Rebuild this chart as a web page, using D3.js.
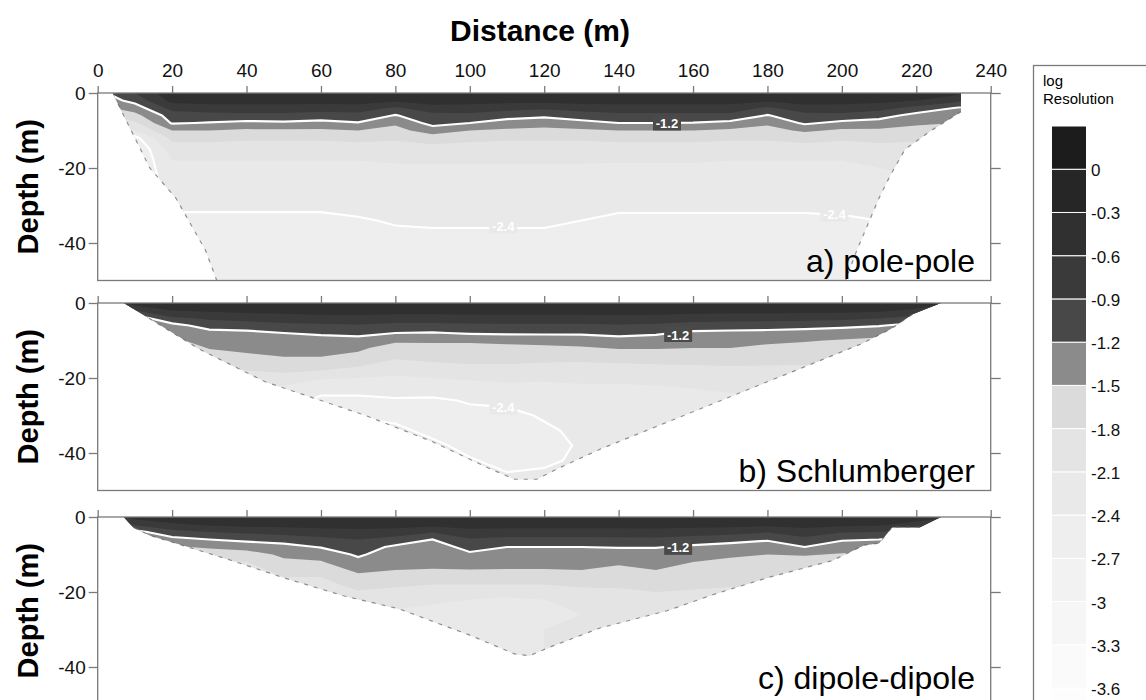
<!DOCTYPE html>
<meta charset="utf-8">
<html>
<head>
<style>
body { margin: 0; background: #fff; }
text { font-family: Arial, "Liberation Sans", sans-serif; }
</style>
</head>
<body>
<div id="chart"></div>
<script src="https://d3js.org/d3.v7.min.js"></script>
<script>

// grid columns (distance, m) and rows (depth, m)
var distances = [0,10,20,30,40,50,60,70,80,90,100,110,120,130,140,150,160,170,180,190,200,210,220,230,240];
var depths = [0,-2,-4,-6,-8,-10,-12,-15,-18,-22,-26,-30,-34,-38,-42,-46,-50];

// contour levels (log resolution) and their fills
var levels = [-3.9,-3.6,-3.3,-3,-2.7,-2.4,-2.1,-1.8,-1.5,-1.2,-0.9,-0.6,-0.3,0];
var levelColors = ["#fdfdfd","#fafafa","#f6f6f6","#f2f2f2","#eeeeee","#e9e9e9","#e4e4e4","#dbdbdb","#8b8b8b","#484848","#3a3a3a","#303030","#262626","#1c1c1c"];
var lineLevels = [-2.4, -1.2];
var legendTicks = [0,-0.3,-0.6,-0.9,-1.2,-1.5,-1.8,-2.1,-2.4,-2.7,-3,-3.3,-3.6];

var xTicks = [0,20,40,60,80,100,120,140,160,180,200,220,240];
var yTicks = [0,-20,-40];

// log resolution, one column per distance, values down the depth rows
var polePole = [
  [-1.3,-1.4,-1.6,-1.8,-2.0,-2.2,-2.4,-2.6,-2.7,-2.7,-2.7,-2.7,-2.7,-2.7,-2.7,-2.7,-2.7],
  [-0.9,-1.1,-1.35,-1.6,-1.85,-2.1,-2.5,-2.7,-2.7,-2.7,-2.7,-2.7,-2.7,-2.7,-2.7,-2.7,-2.7],
  [-0.4,-0.5,-0.8,-1.05,-1.17,-1.5,-1.72,-1.95,-2.1,-2.2,-2.28,-2.36,-2.45,-2.5,-2.55,-2.6,-2.62],
  [-0.35,-0.45,-0.75,-1.0,-1.22,-1.5,-1.72,-1.93,-2.1,-2.2,-2.28,-2.36,-2.45,-2.5,-2.55,-2.6,-2.62],
  [-0.35,-0.45,-0.75,-0.98,-1.28,-1.55,-1.75,-1.95,-2.1,-2.2,-2.28,-2.36,-2.45,-2.5,-2.55,-2.6,-2.62],
  [-0.35,-0.45,-0.75,-0.98,-1.25,-1.55,-1.75,-1.95,-2.1,-2.2,-2.28,-2.36,-2.45,-2.5,-2.55,-2.6,-2.62],
  [-0.35,-0.45,-0.78,-1.02,-1.3,-1.55,-1.75,-1.95,-2.1,-2.2,-2.28,-2.36,-2.45,-2.5,-2.55,-2.6,-2.62],
  [-0.35,-0.45,-0.75,-1.0,-1.22,-1.5,-1.72,-1.93,-2.1,-2.2,-2.27,-2.34,-2.42,-2.47,-2.52,-2.57,-2.6],
  [-0.4,-0.55,-0.95,-1.22,-1.45,-1.6,-1.75,-1.95,-2.08,-2.18,-2.26,-2.32,-2.38,-2.44,-2.5,-2.55,-2.6],
  [-0.35,-0.45,-0.72,-1.0,-1.1,-1.35,-1.65,-1.92,-2.08,-2.18,-2.26,-2.32,-2.37,-2.43,-2.5,-2.55,-2.6],
  [-0.35,-0.45,-0.75,-0.97,-1.2,-1.5,-1.72,-1.93,-2.08,-2.18,-2.26,-2.32,-2.37,-2.43,-2.5,-2.55,-2.6],
  [-0.35,-0.48,-0.8,-1.08,-1.33,-1.55,-1.75,-1.95,-2.08,-2.18,-2.26,-2.32,-2.37,-2.43,-2.5,-2.55,-2.6],
  [-0.38,-0.5,-0.85,-1.14,-1.38,-1.58,-1.75,-1.95,-2.08,-2.18,-2.26,-2.32,-2.37,-2.43,-2.5,-2.55,-2.6],
  [-0.35,-0.45,-0.78,-1.03,-1.3,-1.55,-1.75,-1.95,-2.08,-2.18,-2.27,-2.34,-2.4,-2.46,-2.52,-2.57,-2.6],
  [-0.35,-0.45,-0.75,-0.97,-1.2,-1.5,-1.72,-1.93,-2.08,-2.2,-2.28,-2.36,-2.44,-2.5,-2.55,-2.6,-2.62],
  [-0.35,-0.45,-0.75,-0.97,-1.2,-1.5,-1.72,-1.93,-2.08,-2.2,-2.28,-2.36,-2.44,-2.5,-2.55,-2.6,-2.62],
  [-0.35,-0.45,-0.75,-0.97,-1.21,-1.5,-1.72,-1.93,-2.08,-2.2,-2.28,-2.36,-2.44,-2.5,-2.55,-2.6,-2.62],
  [-0.35,-0.45,-0.75,-0.98,-1.28,-1.55,-1.75,-1.95,-2.1,-2.2,-2.28,-2.36,-2.44,-2.5,-2.55,-2.6,-2.62],
  [-0.4,-0.55,-0.95,-1.22,-1.45,-1.6,-1.75,-1.95,-2.1,-2.2,-2.28,-2.36,-2.44,-2.5,-2.55,-2.6,-2.62],
  [-0.35,-0.45,-0.73,-1.0,-1.15,-1.45,-1.7,-1.93,-2.1,-2.2,-2.28,-2.36,-2.44,-2.5,-2.55,-2.6,-2.62],
  [-0.35,-0.45,-0.75,-0.98,-1.28,-1.55,-1.75,-1.95,-2.1,-2.2,-2.28,-2.35,-2.43,-2.5,-2.55,-2.6,-2.62],
  [-0.35,-0.5,-0.8,-1.08,-1.33,-1.55,-1.72,-1.9,-2.05,-2.15,-2.2,-2.3,-2.4,-2.45,-2.5,-2.5,-2.5],
  [-0.4,-0.6,-1.0,-1.3,-1.45,-1.6,-1.75,-1.9,-2.0,-2.1,-2.2,-2.3,-2.4,-2.45,-2.5,-2.5,-2.5],
  [-0.5,-0.8,-1.2,-1.4,-1.5,-1.6,-1.75,-1.9,-2.0,-2.1,-2.2,-2.3,-2.4,-2.45,-2.5,-2.5,-2.5],
  [-0.8,-1.1,-1.3,-1.45,-1.55,-1.65,-1.75,-1.9,-2.0,-2.1,-2.2,-2.3,-2.4,-2.45,-2.5,-2.5,-2.5]
];

var schlumberger = [
  [-1.0,-1.2,-1.5,-1.7,-1.9,-2.1,-2.2,-2.3,-2.35,-2.38,-2.38,-2.38,-2.38,-2.38,-2.38,-2.38,-2.38],
  [-0.45,-0.9,-1.35,-1.5,-1.7,-1.9,-2.0,-2.1,-2.2,-2.3,-2.3,-2.3,-2.3,-2.3,-2.3,-2.3,-2.3],
  [-0.4,-0.6,-0.95,-1.3,-1.42,-1.55,-1.75,-1.95,-2.1,-2.2,-2.25,-2.3,-2.3,-2.3,-2.3,-2.3,-2.3],
  [-0.4,-0.55,-0.85,-1.08,-1.3,-1.4,-1.48,-1.7,-1.9,-2.1,-2.2,-2.3,-2.3,-2.3,-2.3,-2.3,-2.3],
  [-0.38,-0.5,-0.8,-1.03,-1.28,-1.38,-1.45,-1.56,-1.8,-2.05,-2.2,-2.3,-2.3,-2.3,-2.3,-2.3,-2.3],
  [-0.35,-0.48,-0.75,-0.98,-1.2,-1.35,-1.43,-1.52,-1.75,-2.1,-2.3,-2.32,-2.3,-2.3,-2.3,-2.3,-2.3],
  [-0.35,-0.45,-0.72,-0.95,-1.15,-1.33,-1.43,-1.52,-1.8,-2.3,-2.45,-2.35,-2.3,-2.3,-2.3,-2.3,-2.3],
  [-0.35,-0.45,-0.7,-0.93,-1.12,-1.3,-1.45,-1.6,-1.9,-2.3,-2.45,-2.42,-2.3,-2.3,-2.3,-2.3,-2.3],
  [-0.35,-0.45,-0.75,-0.98,-1.2,-1.45,-1.62,-1.8,-2.0,-2.3,-2.42,-2.46,-2.35,-2.3,-2.3,-2.3,-2.3],
  [-0.35,-0.45,-0.75,-0.98,-1.22,-1.45,-1.6,-1.75,-1.95,-2.25,-2.44,-2.48,-2.46,-2.35,-2.3,-2.3,-2.3],
  [-0.35,-0.45,-0.73,-0.96,-1.17,-1.45,-1.6,-1.72,-1.9,-2.2,-2.38,-2.46,-2.5,-2.47,-2.38,-2.3,-2.3],
  [-0.35,-0.45,-0.72,-0.95,-1.15,-1.42,-1.58,-1.72,-1.9,-2.15,-2.36,-2.45,-2.5,-2.5,-2.47,-2.38,-2.3],
  [-0.35,-0.45,-0.72,-0.95,-1.15,-1.4,-1.56,-1.74,-1.95,-2.15,-2.3,-2.38,-2.43,-2.46,-2.45,-2.35,-2.3],
  [-0.35,-0.45,-0.72,-0.95,-1.15,-1.38,-1.53,-1.75,-1.95,-2.12,-2.25,-2.32,-2.36,-2.38,-2.35,-2.3,-2.3],
  [-0.35,-0.45,-0.7,-0.93,-1.12,-1.3,-1.48,-1.72,-1.95,-2.12,-2.25,-2.3,-2.3,-2.3,-2.3,-2.3,-2.3],
  [-0.35,-0.45,-0.72,-0.95,-1.16,-1.32,-1.48,-1.7,-1.92,-2.1,-2.2,-2.25,-2.3,-2.3,-2.3,-2.3,-2.3],
  [-0.35,-0.48,-0.76,-1.02,-1.26,-1.38,-1.5,-1.7,-1.9,-2.08,-2.18,-2.25,-2.3,-2.3,-2.3,-2.3,-2.3],
  [-0.35,-0.48,-0.78,-1.04,-1.28,-1.4,-1.5,-1.68,-1.88,-2.05,-2.15,-2.2,-2.25,-2.25,-2.25,-2.25,-2.25],
  [-0.35,-0.48,-0.78,-1.05,-1.3,-1.45,-1.55,-1.7,-1.88,-2.05,-2.15,-2.2,-2.2,-2.2,-2.2,-2.2,-2.2],
  [-0.35,-0.5,-0.8,-1.08,-1.33,-1.48,-1.58,-1.72,-1.88,-2.05,-2.15,-2.2,-2.2,-2.2,-2.2,-2.2,-2.2],
  [-0.35,-0.5,-0.82,-1.12,-1.38,-1.52,-1.62,-1.75,-1.9,-2.05,-2.15,-2.2,-2.2,-2.2,-2.2,-2.2,-2.2],
  [-0.38,-0.55,-0.88,-1.18,-1.42,-1.55,-1.65,-1.78,-1.9,-2.05,-2.15,-2.2,-2.2,-2.2,-2.2,-2.2,-2.2],
  [-0.45,-0.65,-1.0,-1.3,-1.5,-1.6,-1.7,-1.8,-1.9,-2.0,-2.1,-2.2,-2.2,-2.2,-2.2,-2.2,-2.2],
  [-0.6,-0.85,-1.15,-1.4,-1.55,-1.65,-1.72,-1.8,-1.9,-2.0,-2.1,-2.2,-2.2,-2.2,-2.2,-2.2,-2.2],
  [-0.8,-1.05,-1.3,-1.5,-1.6,-1.7,-1.75,-1.8,-1.9,-2.0,-2.1,-2.2,-2.2,-2.2,-2.2,-2.2,-2.2]
];

var dipoleDipole = [
  [-1.0,-1.3,-1.6,-1.8,-1.9,-2.0,-2.0,-2.0,-2.0,-2.0,-2.0,-2.0,-2.0,-2.0,-2.0,-2.0,-2.0],
  [-0.5,-0.85,-1.3,-1.5,-1.7,-1.85,-1.9,-2.0,-2.0,-2.0,-2.0,-2.0,-2.0,-2.0,-2.0,-2.0,-2.0],
  [-0.4,-0.65,-1.0,-1.3,-1.55,-1.8,-1.9,-2.0,-2.0,-2.0,-2.0,-2.0,-2.0,-2.0,-2.0,-2.0,-2.0],
  [-0.38,-0.55,-0.9,-1.2,-1.45,-1.7,-1.85,-1.95,-2.0,-2.0,-2.0,-2.0,-2.0,-2.0,-2.0,-2.0,-2.0],
  [-0.36,-0.5,-0.85,-1.12,-1.4,-1.62,-1.8,-1.95,-2.0,-2.0,-2.0,-2.0,-2.0,-2.0,-2.0,-2.0,-2.0],
  [-0.35,-0.48,-0.8,-1.06,-1.32,-1.45,-1.55,-1.75,-1.9,-2.0,-2.0,-2.0,-2.0,-2.0,-2.0,-2.0,-2.0],
  [-0.35,-0.45,-0.75,-0.98,-1.18,-1.4,-1.52,-1.75,-1.9,-2.05,-2.1,-2.1,-2.1,-2.1,-2.1,-2.1,-2.1],
  [-0.35,-0.45,-0.7,-0.9,-1.05,-1.15,-1.3,-1.5,-1.7,-1.95,-2.1,-2.15,-2.15,-2.15,-2.15,-2.15,-2.15],
  [-0.35,-0.45,-0.75,-1.0,-1.26,-1.38,-1.45,-1.52,-1.75,-2.0,-2.15,-2.2,-2.2,-2.2,-2.2,-2.2,-2.2],
  [-0.38,-0.5,-0.88,-1.2,-1.35,-1.42,-1.47,-1.52,-1.8,-2.05,-2.2,-2.2,-2.2,-2.2,-2.2,-2.2,-2.2],
  [-0.35,-0.45,-0.72,-0.93,-1.1,-1.25,-1.4,-1.55,-1.8,-2.1,-2.2,-2.2,-2.2,-2.2,-2.2,-2.2,-2.2],
  [-0.35,-0.45,-0.75,-0.97,-1.2,-1.35,-1.45,-1.53,-1.8,-2.15,-2.2,-2.15,-2.15,-2.15,-2.15,-2.15,-2.15],
  [-0.35,-0.45,-0.75,-0.97,-1.2,-1.35,-1.45,-1.53,-1.8,-2.1,-2.15,-2.1,-2.1,-2.1,-2.1,-2.1,-2.1],
  [-0.35,-0.45,-0.75,-0.97,-1.2,-1.35,-1.45,-1.52,-1.75,-2.0,-2.1,-2.1,-2.1,-2.1,-2.1,-2.1,-2.1],
  [-0.35,-0.45,-0.75,-0.96,-1.18,-1.36,-1.48,-1.55,-1.75,-1.95,-2.05,-2.05,-2.05,-2.05,-2.05,-2.05,-2.05],
  [-0.35,-0.45,-0.74,-0.96,-1.18,-1.35,-1.45,-1.52,-1.7,-1.9,-2.0,-2.0,-2.0,-2.0,-2.0,-2.0,-2.0],
  [-0.35,-0.47,-0.77,-1.02,-1.26,-1.4,-1.5,-1.62,-1.75,-1.9,-2.0,-2.0,-2.0,-2.0,-2.0,-2.0,-2.0],
  [-0.35,-0.48,-0.8,-1.08,-1.33,-1.46,-1.55,-1.65,-1.78,-1.9,-2.0,-2.0,-2.0,-2.0,-2.0,-2.0,-2.0],
  [-0.38,-0.52,-0.88,-1.16,-1.4,-1.5,-1.58,-1.68,-1.78,-1.9,-2.0,-2.0,-2.0,-2.0,-2.0,-2.0,-2.0],
  [-0.35,-0.47,-0.75,-0.98,-1.2,-1.48,-1.6,-1.68,-1.78,-1.88,-1.95,-1.95,-1.95,-1.95,-1.95,-1.95,-1.95],
  [-0.38,-0.52,-0.88,-1.16,-1.4,-1.52,-1.6,-1.7,-1.8,-1.85,-1.95,-1.95,-1.95,-1.95,-1.95,-1.95,-1.95],
  [-0.4,-0.55,-0.9,-1.2,-1.45,-1.55,-1.65,-1.72,-1.8,-1.9,-1.95,-1.95,-1.95,-1.95,-1.95,-1.95,-1.95],
  [-0.45,-0.7,-1.1,-1.35,-1.5,-1.6,-1.7,-1.75,-1.8,-1.9,-1.95,-1.95,-1.95,-1.95,-1.95,-1.95,-1.95],
  [-0.6,-0.9,-1.2,-1.4,-1.55,-1.65,-1.7,-1.75,-1.8,-1.9,-1.95,-1.95,-1.95,-1.95,-1.95,-1.95,-1.95],
  [-0.8,-1.1,-1.3,-1.5,-1.6,-1.7,-1.75,-1.8,-1.85,-1.9,-1.95,-1.95,-1.95,-1.95,-1.95,-1.95,-1.95]
];

// outline of the area covered by each survey [distance, depth]
var polePoleOutline = [[4,0],[232,0],[232,-5],[224,-10],[217,-15],[213,-22],[210,-28],[207,-35],[204,-42],[201,-50],
  [32,-50],[29,-42],[25,-35],[21,-28],[14,-20],[11.5,-15],[8,-8],[5,-2]];
var schlumbergerOutline = [[7,0],[226.6,0],[219,-3],[213,-7],[205,-11],[190,-17],[170,-25],[150,-33],[135,-39],[124,-44],
  [118,-47],[112,-47],[105,-44],[90,-37],[72,-30],[45,-21],[27.5,-12.4],[13,-3.6]];
var dipoleDipoleOutline = [[7,0],[226.6,0],[221,-2.7],[213.5,-2.7],[210,-7],[206,-7.5],[197.5,-11.6],[180,-16.2],[166,-20.5],
  [153,-25],[135,-29.6],[122,-34.5],[116,-37],[112,-36.5],[100,-31.5],[81,-24.5],[66,-21],[50,-16.2],[36,-11.6],[21,-7],[14,-4.9],[9.5,-2.7]];

// contour labels [text, distance, depth]
var polePoleLabels = [["-1.2",153,-8],["-2.4",109,-35.5],["-2.4",198,-32.3]];
var schlumbergerLabels = [["-1.2",156,-8.4],["-2.4",109,-27.8]];
var dipoleDipoleLabels = [["-1.2",156,-8.1]];

var width = 1146, height = 700;

var svg = d3.select("#chart")
  .append("svg")
    .attr("width", width)
    .attr("height", height);

var x = d3.scaleLinear().domain([0, 240]).range([97.7, 990.7]);
// grid index -> distance / depth
var gridX = d3.scaleLinear().domain(d3.range(distances.length)).range(distances);
var gridY = d3.scaleLinear().domain(d3.range(depths.length)).range(depths);

var panels = [
  {title: "a) pole-pole", top: 93, grid: polePole, outline: polePoleOutline, labels: polePoleLabels},
  {title: "b) Schlumberger", top: 303, grid: schlumberger, outline: schlumbergerOutline, labels: schlumbergerLabels},
  {title: "c) dipole-dipole", top: 517, grid: dipoleDipole, outline: dipoleDipoleOutline, labels: dipoleDipoleLabels}
];

var axisColor = "#7a7a7a";
var nx = distances.length, ny = depths.length;

panels.forEach(function(p, k) {
  var y = d3.scaleLinear().domain([0, -50]).range([p.top, p.top + 187.5]);
  var g = svg.append("g");

  var values = [];
  for (var j = 0; j < ny; j++)
    for (var i = 0; i < nx; i++) values.push(p.grid[i][j]);

  var path = d3.geoPath(d3.geoTransform({
    point: function(gx, gy) { this.stream.point(x(gridX(gx - 0.5)), y(gridY(gy - 0.5))); }
  }));

  var outline = d3.line().x(function(d) { return x(d[0]); }).y(function(d) { return y(d[1]); });
  svg.append("clipPath").attr("id", "clip" + k)
    .append("path").attr("d", outline(p.outline) + "Z");

  var body = g.append("g").attr("clip-path", "url(#clip" + k + ")");

  var bands = d3.contours().size([nx, ny]).thresholds(levels)(values);
  body.selectAll("path.band")
    .data(bands)
    .join("path")
      .attr("class", "band")
      .attr("d", path)
      .attr("fill", function(d) { return levelColors[levels.indexOf(d.value)]; });

  var lines = d3.contours().size([nx, ny]).thresholds(lineLevels)(values);
  body.selectAll("path.iso")
    .data(lines)
    .join("path")
      .attr("class", "iso")
      .attr("d", path)
      .attr("fill", "none")
      .attr("stroke", "#fff")
      .attr("stroke-width", 2.2);

  // ragged lower edge of the covered area
  g.append("path")
    .attr("d", outline(p.outline.slice(2)))
    .attr("fill", "none")
    .attr("stroke", "#666")
    .attr("stroke-width", 1.2)
    .attr("stroke-dasharray", "4,6")
    .attr("opacity", 0.7);

  // contour labels
  p.labels.forEach(function(l) {
    var cx = x(l[1]), cy = y(l[2]);
    g.append("rect")
      .attr("x", cx - 14).attr("y", cy - 7.5)
      .attr("width", 28).attr("height", 15)
      .attr("fill", l[0] == "-1.2" ? "#4a4a4a" : "#e9e9e9");
    g.append("text")
      .attr("x", cx).attr("y", cy + 5)
      .attr("text-anchor", "middle")
      .attr("fill", "#fff")
      .attr("font-size", "13px")
      .attr("font-weight", "bold")
      .text(l[0]);
  });

  // frame
  g.append("rect")
    .attr("x", x(0)).attr("y", y(0))
    .attr("width", x(240) - x(0)).attr("height", y(-50) - y(0))
    .attr("fill", "none")
    .attr("stroke", axisColor)
    .attr("stroke-width", 1.3);

  var top = g.append("g")
    .attr("transform", "translate(0," + y(0) + ")")
    .call(d3.axisTop(x).tickValues(xTicks).tickSize(7).tickPadding(9)
      .tickFormat(function(d) { return k == 0 ? String(d) : ""; }));
  var left = g.append("g")
    .attr("transform", "translate(" + x(0) + ",0)")
    .call(d3.axisLeft(y).tickValues(yTicks).tickSize(9).tickPadding(3)
      .tickFormat(function(d) { return String(d); }));
  var right = g.append("g")
    .attr("transform", "translate(" + x(240) + ",0)")
    .call(d3.axisRight(y).tickValues(yTicks).tickSize(10).tickFormat(""));

  [top, left, right].forEach(function(a) {
    a.select(".domain").remove();
    a.selectAll("line").attr("stroke", axisColor).attr("stroke-width", 1.3);
    a.selectAll("text").attr("fill", "#111").style("font-size", "19px")
      .style("font-family", "Arial, 'Liberation Sans', sans-serif");
  });
  left.selectAll("text").attr("dy", "0.36em");

  g.append("text")
    .attr("transform", "translate(38," + y(-25) + ") rotate(-90)")
    .attr("text-anchor", "middle")
    .attr("font-size", "29px")
    .attr("font-weight", "bold")
    .text("Depth (m)");

  g.append("text")
    .attr("x", 975)
    .attr("y", Math.min(y(-50) - 9, 689))
    .attr("text-anchor", "end")
    .attr("font-size", "32px")
    .text(p.title);
});

svg.append("text")
  .attr("x", 540)
  .attr("y", 41)
  .attr("text-anchor", "middle")
  .attr("font-size", "30px")
  .attr("font-weight", "bold")
  .text("Distance (m)");

// colour legend
var legend = svg.append("g");
legend.append("rect")
  .attr("x", 1033.5).attr("y", 65.5)
  .attr("width", 200).attr("height", 700)
  .attr("fill", "none")
  .attr("stroke", axisColor)
  .attr("stroke-width", 1.3);
legend.append("text").attr("x", 1043).attr("y", 86).attr("font-size", "15px").text("log");
legend.append("text").attr("x", 1043).attr("y", 104).attr("font-size", "15px").text("Resolution");

var ly = d3.scaleLinear().domain([0.3, -3.6]).range([126, 688]);
legend.selectAll("rect.swatch")
  .data(levels)
  .join("rect")
    .attr("class", "swatch")
    .attr("x", 1051.5)
    .attr("y", function(d, i) { return ly(i + 1 < levels.length ? levels[i + 1] : 0.3); })
    .attr("width", 35)
    .attr("height", function(d, i) { return ly(d) - ly(i + 1 < levels.length ? levels[i + 1] : 0.3); })
    .attr("fill", function(d, i) { return levelColors[i]; })
    .attr("stroke", "#fff")
    .attr("stroke-width", 1);

legend.selectAll("text.tick")
  .data(legendTicks)
  .join("text")
    .attr("class", "tick")
    .attr("x", 1091)
    .attr("y", function(d) { return ly(d) + 7; })
    .attr("font-size", "17px")
    .attr("fill", "#111")
    .text(function(d) { return String(d); });

</script>
</body>
</html>
